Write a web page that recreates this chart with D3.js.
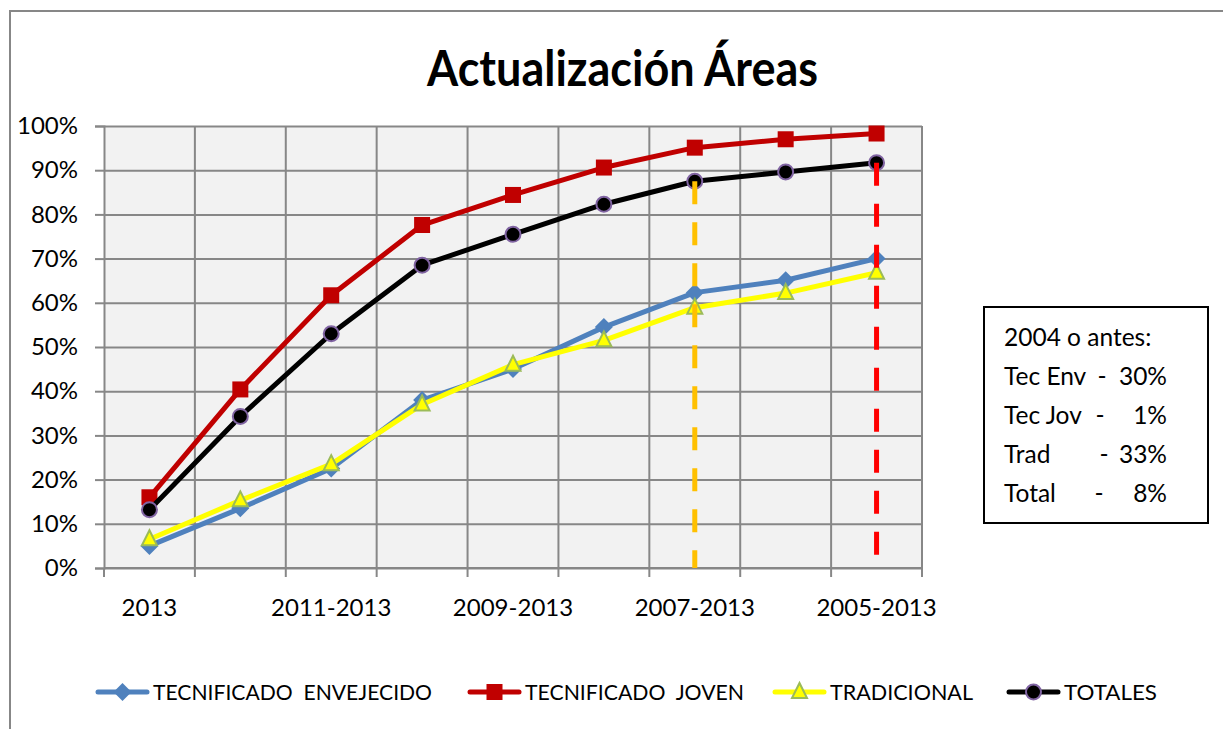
<!DOCTYPE html>
<html>
<head>
<meta charset="utf-8">
<script src="https://cdn.jsdelivr.net/npm/d3@7"></script>
<style>
html,body{margin:0;padding:0;background:#fff;}
svg{display:block;font-family:Lato,"Noto Sans",sans-serif;}
</style>
</head>
<body>
<svg id="chart" width="1223" height="729"></svg>
<script>
const categories = ["2013","2012-2013","2011-2013","2010-2013","2009-2013","2008-2013","2007-2013","2006-2013","2005-2013"];
const shownLabels = ["2013","2011-2013","2009-2013","2007-2013","2005-2013"];
const tecEnv  = [5.0, 13.5, 22.5, 38.0, 45.0, 54.5, 62.3, 65.1, 70.0];
const tecJov  = [16.0, 40.4, 61.7, 77.6, 84.4, 90.6, 95.1, 97.0, 98.3];
const trad    = [6.5, 15.3, 23.5, 37.0, 46.0, 51.5, 58.9, 62.2, 66.8];
const totales = [13.2, 34.3, 53.0, 68.5, 75.5, 82.3, 87.5, 89.6, 91.7];
const yTicks = [0,10,20,30,40,50,60,70,80,90,100];
const seriesNames = ["TECNIFICADO  ENVEJECIDO","TECNIFICADO  JOVEN","TRADICIONAL","TOTALES"];
const markLines = [{cat:"2007-2013", color:"#FFC000"}, {cat:"2005-2013", color:"#FF0000"}];
const noteTitle = "2004 o antes:";
const noteLabels = ["Tec Env","Tec Jov","Trad","Total"];
const noteValues = ["30%","1%","33%","8%"];
const chartTitle = "Actualización Áreas";

const svg = d3.select("#chart");
const L = 104, R = 922, T = 126, B = 568;
const x = d3.scaleBand().domain(categories).range([L, R]).paddingInner(0).paddingOuter(0);
const y = d3.scaleLinear().domain([0, 100]).range([B, T]);
const cx = c => x(c) + x.bandwidth() / 2;
const grid = "#878787";

// outer frame
svg.append("rect").attr("x",10).attr("y",11).attr("width",1260).attr("height",760)
  .attr("fill","none").attr("stroke",grid).attr("stroke-width",2);

// title
svg.append("text").attr("x",427).attr("y",86).attr("font-weight","bold").attr("font-size",50)
  .attr("textLength",391).attr("lengthAdjust","spacingAndGlyphs").attr("fill","#000").text(chartTitle);

// plot background
svg.append("rect").attr("x",L).attr("y",T).attr("width",R-L).attr("height",B-T).attr("fill","#F2F2F2");

// horizontal gridlines + y axis
const yAxis = d3.axisLeft(y).tickValues(yTicks).tickSize(9).tickFormat(d => d + "%");
const gy = svg.append("g").attr("transform",`translate(${L},0)`).call(yAxis);
gy.select(".domain").attr("stroke",grid).attr("stroke-width",2);
gy.selectAll(".tick line").attr("stroke",grid).attr("stroke-width",2);
gy.selectAll(".tick text").attr("font-size",24).attr("fill","#000").attr("x",-26).attr("font-family","Lato");
gy.selectAll(".tick").append("line").attr("x1",0).attr("x2",R-L).attr("stroke",grid).attr("stroke-width",2);

// vertical gridlines + x axis
const boundaries = categories.map(c => x(c)).concat([R]);
svg.append("g").selectAll("line").data(boundaries.slice(1)).join("line")
  .attr("x1",d=>d).attr("x2",d=>d).attr("y1",T).attr("y2",B).attr("stroke",grid).attr("stroke-width",2);
svg.append("g").selectAll("line").data(boundaries).join("line")
  .attr("x1",d=>d).attr("x2",d=>d).attr("y1",B).attr("y2",B+9).attr("stroke",grid).attr("stroke-width",2);
const xAxis = d3.axisBottom(x).tickValues(shownLabels).tickSize(0).tickPadding(0);
const gx = svg.append("g").attr("transform",`translate(0,${B})`).call(xAxis);
gx.select(".domain").attr("stroke",grid).attr("stroke-width",2).attr("d",`M${L},0H${R}`);
gx.selectAll(".tick text").attr("font-size",24).attr("fill","#000").attr("dy",null).attr("y",48).attr("font-family","Lato");

// series
const series = [
  {name:seriesNames[0], values:tecEnv, color:"#4F81BD", marker:"diamond"},
  {name:seriesNames[1], values:tecJov, color:"#C00000", marker:"square"},
  {name:seriesNames[2], values:trad, color:"#FFFF00", marker:"triangle"},
  {name:seriesNames[3], values:totales, color:"#000000", marker:"circle"}
];
const line = d3.line().x((d,i)=>cx(categories[i])).y(d=>y(d));

function drawMarker(g, type, px, py, color) {
  if (type === "diamond") {
    g.append("path").attr("d",`M${px},${py-9}L${px+9},${py}L${px},${py+9}L${px-9},${py}Z`).attr("fill",color);
  } else if (type === "square") {
    g.append("rect").attr("x",px-8).attr("y",py-8).attr("width",16).attr("height",16).attr("fill",color);
  } else if (type === "triangle") {
    g.append("path").attr("d",`M${px},${py-9}L${px+7.5},${py+6}L${px-7.5},${py+6}Z`)
      .attr("fill","#FFFF00").attr("stroke","#9BBB59").attr("stroke-width",2);
  } else {
    g.append("circle").attr("cx",px).attr("cy",py).attr("r",7.5).attr("fill","#000")
      .attr("stroke","#8064A2").attr("stroke-width",2);
  }
}

series.forEach(s => {
  const g = svg.append("g");
  g.append("path").datum(s.values).attr("d",line).attr("fill","none").attr("stroke",s.color)
    .attr("stroke-width",5).attr("stroke-linejoin","round").attr("stroke-linecap","round");
  s.values.forEach((v,i) => drawMarker(g, s.marker, cx(categories[i]), y(v), s.color));
});

// dashed reference lines
markLines.forEach(m => {
  const i = categories.indexOf(m.cat);
  svg.append("line").attr("x1",cx(m.cat)).attr("x2",cx(m.cat)).attr("y1",y(totales[i])).attr("y2",B)
    .attr("stroke",m.color).attr("stroke-width",5).attr("stroke-dasharray","23,18");
});

// note box
svg.append("rect").attr("x",984).attr("y",307).attr("width",224).attr("height",216)
  .attr("fill","#fff").attr("stroke","#000").attr("stroke-width",2);
svg.append("text").attr("x",1004).attr("y",346).attr("font-size",24.5).attr("fill","#000").text(noteTitle);
const dashX = [1102, 1100, 1104, 1099];
noteLabels.forEach((lab,i) => {
  const by = 385 + i*39;
  svg.append("text").attr("x",1004).attr("y",by).attr("font-size",24.5).attr("fill","#000").text(lab);
  svg.append("text").attr("x",dashX[i]).attr("y",by).attr("font-size",24.5).attr("fill","#000").attr("text-anchor","middle").text("-");
  svg.append("text").attr("x",1167).attr("y",by).attr("font-size",24.5).attr("fill","#000").attr("text-anchor","end").text(noteValues[i]);
});

// legend
const legendX = [95, 467, 772, 1006];
const legendW = [279, 219, 143, 93];
series.forEach((s,i) => {
  const g = svg.append("g");
  const lx = legendX[i], ly = 692;
  g.append("line").attr("x1",lx+3).attr("x2",lx+52).attr("y1",ly).attr("y2",ly)
    .attr("stroke",s.color).attr("stroke-width",5).attr("stroke-linecap","round");
  drawMarker(g, s.marker, lx+27.5, ly, s.color);
  g.append("text").attr("x",lx+58).attr("y",ly+8).attr("font-size",21).attr("fill","#000")
    .attr("textLength",legendW[i]).attr("lengthAdjust","spacingAndGlyphs").style("white-space","pre").text(s.name);
});
</script>
</body>
</html>
